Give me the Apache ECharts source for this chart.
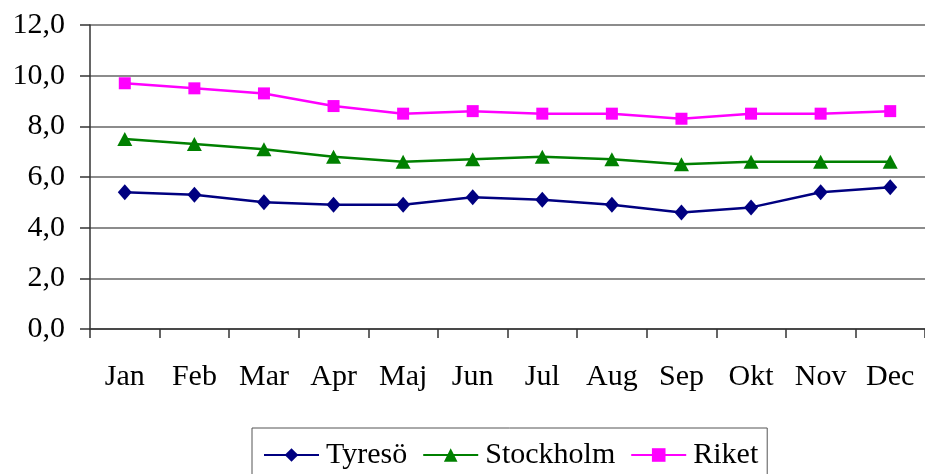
<!DOCTYPE html>
<html>
<head>
<meta charset="utf-8">
<script src="https://cdn.jsdelivr.net/npm/echarts@6/dist/echarts.min.js"></script>
<style>
html,body{margin:0;padding:0;background:#fff;}
#chart{width:925px;height:474px;}
</style>
</head>
<body>
<div id="chart"></div>
<script>
const months = ['Jan','Feb','Mar','Apr','Maj','Jun','Jul','Aug','Sep','Okt','Nov','Dec'];
const tyreso = [5.4,5.3,5.0,4.9,4.9,5.2,5.1,4.9,4.6,4.8,5.4,5.6];
const stockholm = [7.5,7.3,7.1,6.8,6.6,6.7,6.8,6.7,6.5,6.6,6.6,6.6];
const riket = [9.7,9.5,9.3,8.8,8.5,8.6,8.5,8.5,8.3,8.5,8.5,8.6];
const seriesNames = ['Tyresö','Stockholm','Riket'];

const font = '"Liberation Serif", "Times New Roman", serif';
const chart = echarts.init(document.getElementById('chart'));
chart.setOption({
  animation: false,
  backgroundColor: '#fff',
  grid: { left: 90, top: 25, width: 840, height: 304, containLabel: false },
  legend: {
    data: seriesNames,
    left: 252, top: 428,
    padding: [12, 9, 12, 11],
    itemWidth: 55, itemHeight: 17, itemGap: 15,
    borderColor: '#555', borderWidth: 1,
    textStyle: { fontFamily: font, fontSize: 30, color: '#000', padding: [0,0,0,2] }
  },
  xAxis: {
    type: 'category',
    data: months,
    boundaryGap: true,
    axisLine: { lineStyle: { color: '#333', width: 1.5 } },
    axisTick: { show: true, interval: 0, length: 9, lineStyle: { color: '#333', width: 1.5 } },
    axisLabel: { fontFamily: font, fontSize: 30, color: '#000', margin: 33, interval: 0 }
  },
  yAxis: {
    type: 'value',
    min: 0, max: 12, interval: 2,
    axisLine: { show: true, lineStyle: { color: '#333', width: 1.5 } },
    axisTick: { show: true, length: 10, lineStyle: { color: '#333', width: 1.5 } },
    splitLine: { show: true, lineStyle: { color: '#666', width: 1.5 } },
    axisLabel: {
      fontFamily: font, fontSize: 30, color: '#000', margin: 25,
      formatter: v => v.toFixed(1).replace('.', ',')
    }
  },
  series: [
    { name: seriesNames[0], type: 'line', data: tyreso, symbol: 'diamond', symbolSize: [14, 16],
      itemStyle: { color: '#000080' }, lineStyle: { color: '#000080', width: 2.5 } },
    { name: seriesNames[1], type: 'line', data: stockholm, symbol: 'triangle', symbolSize: [15, 14],
      itemStyle: { color: '#008000' }, lineStyle: { color: '#008000', width: 2.5 } },
    { name: seriesNames[2], type: 'line', data: riket, symbol: 'rect', symbolSize: 12,
      itemStyle: { color: '#FF00FF' }, lineStyle: { color: '#FF00FF', width: 2.5 } }
  ]
});
</script>
</body>
</html>
